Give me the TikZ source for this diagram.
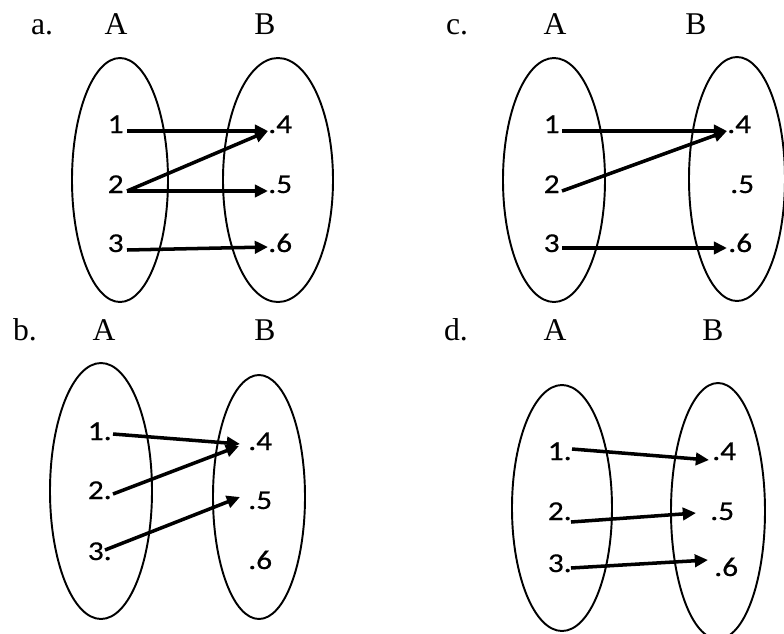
\documentclass[tikz,border=0pt]{standalone}
\usepackage{fontspec}
\setmainfont{Liberation Serif}
\newfontfamily\numfont[FakeStretch=1.15, FakeBold=0.5]{Carlito}
\usetikzlibrary{arrows.meta}

\begin{document}
\begin{tikzpicture}[
    x=0.2mm, y=-0.2mm,
    set oval/.style={draw, line width=1.1pt},
    head node/.style={anchor=base, inner sep=0pt, font=\fontsize{18}{20}\selectfont},
    left elem/.style={anchor=base east, inner sep=0pt, font=\numfont\fontsize{15.5}{17}\selectfont},
    right elem/.style={anchor=base west, inner sep=0pt, font=\numfont\fontsize{15.5}{17}\selectfont},
    map arrow/.style={line width=2pt, -{Triangle[length=7.5pt, width=7pt]}}
]
    \useasboundingbox (0,0) rectangle (784,634);

    % a.
    \node[head node] (ta) at (42,34) {a.};
    \node[head node] (taA) at (116,34) {A};
    \node[head node] (taB) at (265,34) {B};
    \draw[set oval] (120,180) ellipse [x radius=48, y radius=122];
    \draw[set oval] (278,180) ellipse [x radius=55, y radius=122];
    \node[left elem] (a1) at (124,133) {1};
    \node[left elem] (a2) at (124,193) {2};
    \node[left elem] (a3) at (124,252) {3};
    \node[right elem] (a4) at (268,133) {.4};
    \node[right elem] (a5) at (268,193) {.5};
    \node[right elem] (a6) at (268,252) {.6};
    \draw[map arrow] ([shift={(3,-2)}]a1.base east) -- ([shift={(0,-2)}]a4.base west);
    \draw[map arrow] ([shift={(3,-2)}]a2.base east) -- ([shift={(0,-2)}]a4.base west);
    \draw[map arrow] ([shift={(3,-2)}]a2.base east) -- ([shift={(0,-2)}]a5.base west);
    \draw[map arrow] ([shift={(3,-2)}]a3.base east) -- ([shift={(0,-5)}]a6.base west);

    % c.
    \node[head node] (tc) at (457,34) {c.};
    \node[head node] (tcA) at (555,34) {A};
    \node[head node] (tcB) at (696,34) {B};
    \draw[set oval] (554,180) ellipse [x radius=51, y radius=122];
    \draw[set oval] (737,179) ellipse [x radius=48, y radius=122];
    \node[left elem] (c1) at (560,133) {1};
    \node[left elem] (c2) at (560,193) {2};
    \node[left elem] (c3) at (560,252) {3};
    \node[right elem] (c4) at (727,133) {.4};
    \node[right elem] (c5) at (730,193) {.5};
    \node[right elem] (c6) at (728,252) {.6};
    \draw[map arrow] ([shift={(2,-2)}]c1.base east) -- ([shift={(0,-2)}]c4.base west);
    \draw[map arrow] ([shift={(2,-2)}]c2.base east) -- ([shift={(0,-2)}]c4.base west);
    \draw[map arrow] ([shift={(2,-4)}]c3.base east) -- ([shift={(-1,-4)}]c6.base west);

    % b.
    \node[head node] (tb) at (25,340) {b.};
    \node[head node] (tbA) at (104,340) {A};
    \node[head node] (tbB) at (265,340) {B};
    \draw[set oval] (101,491) ellipse [x radius=51, y radius=128];
    \draw[set oval] (259,497) ellipse [x radius=46, y radius=122];
    \node[left elem] (b1) at (112,440) {1.};
    \node[left elem] (b2) at (112,499) {2.};
    \node[left elem] (b3) at (112,560) {3.};
    \node[right elem] (b4) at (248,450) {.4};
    \node[right elem] (b5) at (248,509) {.5};
    \node[right elem] (b6) at (248,569) {.6};
    \draw[map arrow] ([shift={(1,-6)}]b1.base east) -- ([shift={(-8,-6)}]b4.base west);
    \draw[map arrow] ([shift={(1,-5)}]b2.base east) -- ([shift={(-9,-4)}]b4.base west);
    \draw[map arrow] ([shift={(-7,-10)}]b3.base east) -- ([shift={(-8,-12)}]b5.base west);

    % d.
    \node[head node] (td) at (456,340) {d.};
    \node[head node] (tdA) at (555,340) {A};
    \node[head node] (tdB) at (713,340) {B};
    \draw[set oval] (562,508) ellipse [x radius=50, y radius=123];
    \draw[set oval] (718,511) ellipse [x radius=47, y radius=128];
    \node[left elem] (d1) at (572,460) {1.};
    \node[left elem] (d2) at (572,520) {2.};
    \node[left elem] (d3) at (572,572) {3.};
    \node[right elem] (d4) at (712,460) {.4};
    \node[right elem] (d5) at (710,520) {.5};
    \node[right elem] (d6) at (714,576) {.6};
    \draw[map arrow] ([shift={(0,-11)}]d1.base east) -- ([shift={(-3,0)}]d4.base west);
    \draw[map arrow] ([shift={(-1,2)}]d2.base east) -- ([shift={(-14,-7)}]d5.base west);
    \draw[map arrow] ([shift={(-1,-4)}]d3.base east) -- ([shift={(-6,-16)}]d6.base west);
\end{tikzpicture}
\end{document}
